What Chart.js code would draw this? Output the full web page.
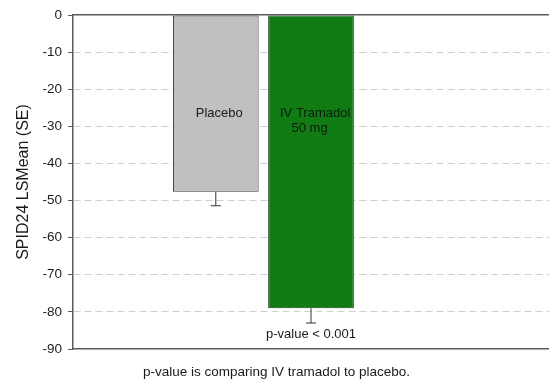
<!DOCTYPE html>
<html>
<head>
<meta charset="utf-8">
<script src="https://cdn.jsdelivr.net/npm/chart.js@4/dist/chart.umd.min.js"></script>
<style>
  html, body { margin: 0; padding: 0; background: #fff; }
  #wrap { width: 549px; height: 382px; }
</style>
</head>
<body>
<div id="wrap"><canvas id="c" width="549" height="382"></canvas></div>
<script>
// Treatment groups, their LS mean change and standard errors
const groups = ['Placebo', 'IV Tramadol 50 mg'];
const lsMeans = [-47.6, -79.0];
const stdErrors = [3.8, 4.0];
const barLabels = [['Placebo'], ['IV Tramadol', '50 mg']];
const pValueText = 'p-value < 0.001';
const footnote = 'p-value is comparing IV tramadol to placebo.';
const yTicks = [0, -10, -20, -30, -40, -50, -60, -70, -80, -90];

// Empty slots around the two groups leave blank space on either side of the bars
const slots = ['', ...groups, '', ''];
const slotValues = [null, ...lsMeans, null, null];
const slotErrors = [null, ...stdErrors, null, null];

const FONT = "'Liberation Sans', Arial, sans-serif";

// Error whiskers (downward only), in-bar labels, p-value and footnote
const annotate = {
  id: 'annotate',
  afterDatasetsDraw(chart) {
    const ctx = chart.ctx;
    const y = chart.scales.y;
    const meta = chart.getDatasetMeta(0);
    ctx.save();
    meta.data.forEach((bar, i) => {
      const v = slotValues[i];
      if (v === null) return;
      const yEnd = y.getPixelForValue(v - slotErrors[i]);
      ctx.strokeStyle = '#333';
      ctx.lineWidth = 1;
      ctx.beginPath();
      ctx.moveTo(bar.x, bar.y);
      ctx.lineTo(bar.x, yEnd);
      ctx.moveTo(bar.x - 5, yEnd);
      ctx.lineTo(bar.x + 5, yEnd);
      ctx.stroke();
    });
    ctx.font = '13px ' + FONT;
    ctx.textBaseline = 'middle';
    // Placebo label
    const b1 = meta.data[1];
    ctx.fillStyle = '#1a1a1a';
    ctx.textAlign = 'center';
    ctx.fillText(barLabels[0][0], b1.x + 3.5, y.getPixelForValue(-26.5));
    // Tramadol label
    const b2 = meta.data[2];
    ctx.fillStyle = '#0b1c0b';
    ctx.textAlign = 'left';
    ctx.fillText(barLabels[1][0], b2.x - 31, y.getPixelForValue(-26.5));
    ctx.fillText(barLabels[1][1], b2.x - 19.5, y.getPixelForValue(-30.6));
    // p-value
    ctx.fillStyle = '#1a1a1a';
    ctx.textAlign = 'center';
    ctx.fillText(pValueText, b2.x, y.getPixelForValue(-86.2));
    // footnote under the plot
    ctx.font = '13.5px ' + FONT;
    ctx.fillText(footnote, chart.width / 2 + 2, 372.5);
    ctx.restore();
  }
};

new Chart(document.getElementById('c'), {
  type: 'bar',
  data: {
    labels: slots,
    datasets: [{
      data: slotValues,
      backgroundColor: ['#fff', '#c0c0c0', '#127c14', '#fff', '#fff'],
      borderColor: ['#fff', '#3a3a3a', '#1f3d1f', '#fff', '#fff'],
      borderWidth: 1,
      borderSkipped: false,
      barPercentage: 0.9,
      categoryPercentage: 1.0
    }]
  },
  options: {
    responsive: false,
    animation: false,
    devicePixelRatio: 1,
    layout: { padding: { top: 7, right: 0, left: 0, bottom: 0 } },
    plugins: { legend: { display: false }, tooltip: { enabled: false } },
    scales: {
      x: {
        type: 'category',
        position: 'bottom',
        grid: { display: false },
        ticks: { display: false },
        border: { display: true, color: '#5a5a5a', width: 1.5 },
        afterFit(s) { s.height = 33; }
      },
      x2: {
        type: 'category',
        position: 'top',
        grid: { display: false },
        ticks: { display: false },
        border: { display: true, color: '#5a5a5a', width: 1.5 }
      },
      y: {
        min: -90,
        max: 0,
        afterBuildTicks(s) { s.ticks = yTicks.map(v => ({ value: v })); },
        ticks: {
          color: '#1e1e1e',
          font: { family: FONT, size: 13.5 },
          padding: 6
        },
        grid: {
          color: c => (c.tick && (c.tick.value === 0 || c.tick.value === -90)) ? 'rgba(0,0,0,0)' : '#cfcfcf',
          lineWidth: 1,
          tickColor: '#5a5a5a',
          tickLength: 5,
          drawTicks: true
        },
        border: { display: true, color: '#5a5a5a', width: 1.5, dash: [7, 4] },
        title: {
          display: true,
          text: 'SPID24 LSMean (SE)',
          color: '#1a1a1a',
          font: { family: FONT, size: 16 },
          padding: { top: 14, bottom: 0 }
        },
        afterFit(s) { s.width = 73; }
      }
    }
  },
  plugins: [annotate]
});
</script>
</body>
</html>
